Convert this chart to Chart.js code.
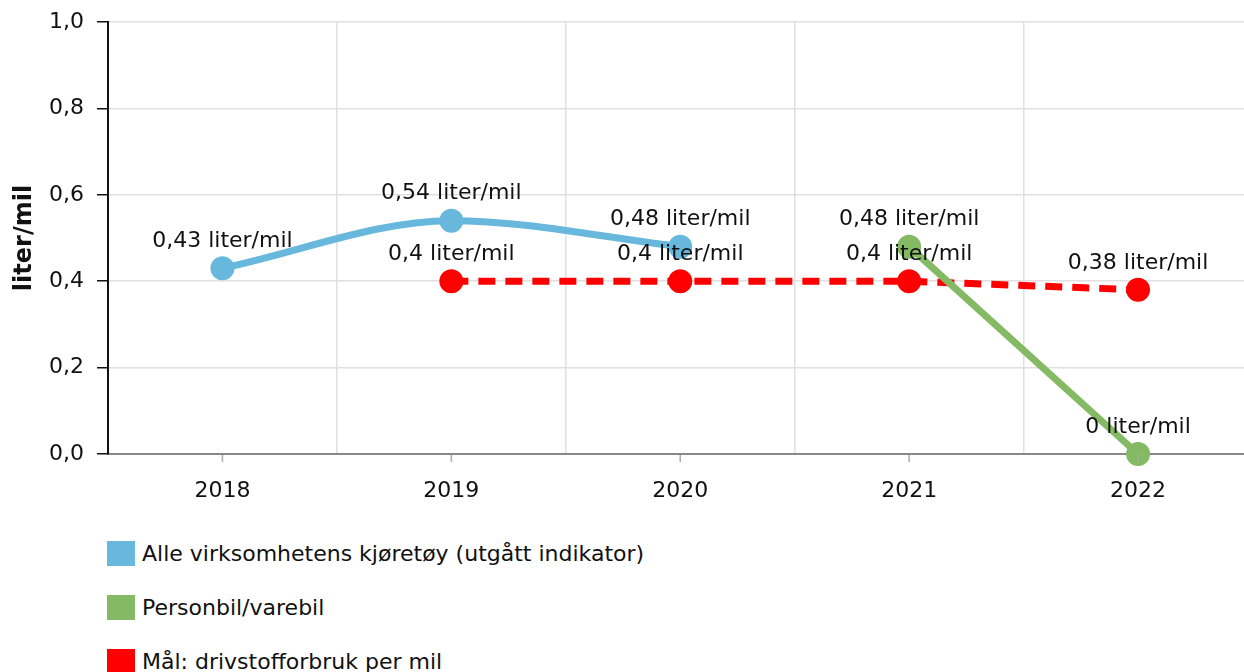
<!DOCTYPE html>
<html>
<head>
<meta charset="utf-8">
<script src="https://cdn.jsdelivr.net/npm/chart.js@4"></script>
<style>
  html, body { margin: 0; padding: 0; background: #fff; overflow: hidden; }
  #wrap { position: relative; width: 1268px; height: 672px; }
  #chart { position: absolute; left: 0; top: 0; }
  #legend { position: absolute; left: 107px; top: 541px; font-family: 'DejaVu Sans', Verdana, sans-serif; font-size: 22px; color: #111; }
  .item { display: flex; align-items: center; height: 25px; margin-bottom: 29px; white-space: nowrap; }
  .box { width: 28px; height: 25px; margin-right: 7px; flex: none; }
</style>
</head>
<body>
<div id="wrap">
  <canvas id="chart" width="1268" height="520"></canvas>
  <div id="legend"></div>
</div>
<script>
// data
const years = ['2018', '2019', '2020', '2021', '2022'];
const alleKjoretoy = [0.43, 0.54, 0.48, null, null];
const personbil = [null, null, null, 0.48, 0];
const maal = [null, 0.4, 0.4, 0.4, 0.38];
const yTicks = [0, 0.2, 0.4, 0.6, 0.8, 1.0];

const FONT = "'DejaVu Sans', Verdana, sans-serif";
const fmt = v => String(v).replace('.', ',');

// value labels above each point
const valueLabels = {
  id: 'valueLabels',
  afterDatasetsDraw(chart) {
    const ctx = chart.ctx;
    ctx.save();
    ctx.font = '22px ' + FONT;
    ctx.fillStyle = '#111';
    ctx.textAlign = 'center';
    ctx.textBaseline = 'middle';
    chart.data.datasets.forEach((ds, i) => {
      chart.getDatasetMeta(i).data.forEach((pt, j) => {
        const v = ds.data[j];
        if (v == null) return;
        ctx.fillText(fmt(v) + ' liter/mil', pt.x, pt.y - 27);
      });
    });
    ctx.restore();
  }
};

// small tick marks under the x axis at category centres
const xCenterTicks = {
  id: 'xCenterTicks',
  afterDraw(chart) {
    const x = chart.scales.x, ctx = chart.ctx;
    ctx.save();
    ctx.strokeStyle = '#aaa';
    ctx.lineWidth = 1.5;
    years.forEach((y, i) => {
      const px = x.getPixelForValue(i);
      ctx.beginPath();
      ctx.moveTo(px, x.top + 1);
      ctx.lineTo(px, x.top + 8);
      ctx.stroke();
    });
    ctx.restore();
  }
};

const datasets = [
  { label: 'Mål: drivstofforbruk per mil', data: maal, borderColor: '#ff0000', backgroundColor: '#ff0000',
    borderWidth: 7, borderDash: [17, 10], pointRadius: 8.5, pointHoverRadius: 8.5, order: 3 },
  { label: 'Alle virksomhetens kjøretøy (utgått indikator)', data: alleKjoretoy, borderColor: '#68b7dc', backgroundColor: '#68b7dc',
    borderWidth: 7, cubicInterpolationMode: 'monotone', pointRadius: 8.5, pointHoverRadius: 8.5, order: 2 },
  { label: 'Personbil/varebil', data: personbil, borderColor: '#84ba63', backgroundColor: '#84ba63',
    borderWidth: 7, pointRadius: 8.5, pointHoverRadius: 8.5, order: 1 }
];

new Chart(document.getElementById('chart'), {
  type: 'line',
  data: { labels: years, datasets: datasets.map(d => ({ ...d, clip: false })) },
  plugins: [valueLabels, xCenterTicks],
  options: {
    responsive: false,
    animation: false,
    layout: { padding: { top: 22, right: 0, bottom: 0, left: 0 } },
    plugins: { legend: { display: false }, tooltip: { enabled: false } },
    scales: {
      x: {
        offset: true,
        grid: { offset: true, color: '#e0e0e0', lineWidth: 1.5, drawTicks: true, tickLength: 24, tickColor: 'rgba(0,0,0,0)' },
        border: { color: '#888', width: 2 },
        ticks: { color: '#111', font: { family: FONT, size: 22 }, padding: 0 },
        afterFit: s => { s.height = 66; s.paddingLeft = 0; s.paddingRight = 0; }
      },
      y: {
        min: 0, max: 1,
        afterBuildTicks: s => { s.ticks = yTicks.map(v => ({ value: v })); },
        grid: { color: '#e0e0e0', lineWidth: 1.5, tickColor: '#111', tickLength: 11 },
        border: { color: '#111', width: 2 },
        ticks: { color: '#111', font: { family: FONT, size: 22 }, padding: 13, callback: v => v.toFixed(1).replace('.', ',') },
        title: { display: true, text: 'liter/mil', color: '#111', font: { family: FONT, size: 24, weight: 'bold' }, padding: { top: 10, bottom: 0 } },
        afterFit: s => { s.width = 108; s.paddingTop = 0; s.paddingBottom = 0; }
      }
    }
  }
});

// legend in the original order
const legendOrder = [1, 2, 0];
document.getElementById('legend').innerHTML = legendOrder.map(i =>
  `<div class="item"><span class="box" style="background:${datasets[i].borderColor}"></span>${datasets[i].label}</div>`
).join('');
</script>
</body>
</html>
